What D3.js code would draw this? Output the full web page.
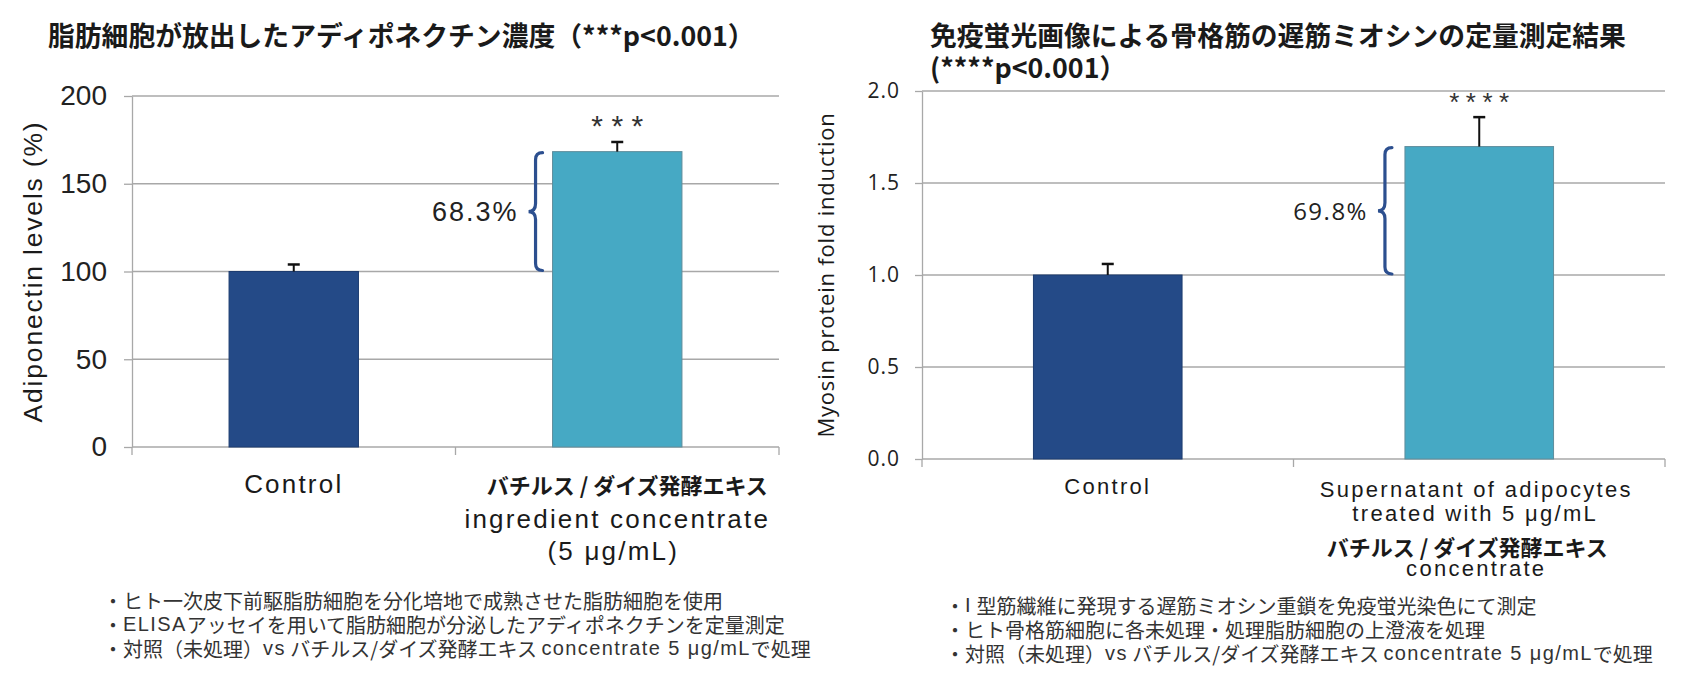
<!DOCTYPE html>
<html>
<head>
<meta charset="utf-8">
<script src="https://cdn.jsdelivr.net/npm/d3@7"></script>
<style>
html, body { margin: 0; padding: 0; background: #fff; }
svg { display: block; }
</style>
</head>
<body>
<svg id="chart" width="1698" height="694"></svg>
<script>
// ---- data, left panel (adiponectin) ----
var titleA = "脂肪細胞が放出したアディポネクチン濃度（***p<0.001）";
var categoriesA = ["Control", "Treated"];
var valuesA = [100, 168.3];
var errorsA = [4, 5.5];
var ticksA = [0, 50, 100, 150, 200];
var yTitleA = "Adiponectin levels (%)";
var labelsA = [["Control"], ["バチルス / ダイズ発酵エキス", "ingredient concentrate", "(5 μg/mL)"]];
var increaseA = "68.3%";
var starsA = "***";
var notesA = [
  "・ヒト一次皮下前駆脂肪細胞を分化培地で成熟させた脂肪細胞を使用",
  "・ELISAアッセイを用いて脂肪細胞が分泌したアディポネクチンを定量測定",
  "・対照（未処理）vs バチルス/ダイズ発酵エキス concentrate 5 μg/mLで処理"
];

// ---- data, right panel (myosin) ----
var titleB = ["免疫蛍光画像による骨格筋の遅筋ミオシンの定量測定結果", "(****p<0.001）"];
var categoriesB = ["Control", "Supernatant"];
var valuesB = [1.0, 1.698];
var errorsB = [0.06, 0.16];
var ticksB = [0, 0.5, 1.0, 1.5, 2.0];
var yTitleB = "Myosin protein fold induction";
var labelsB = [["Control"], ["Supernatant of adipocytes", "treated with 5 μg/mL", "バチルス / ダイズ発酵エキス", "concentrate"]];
var increaseB = "69.8%";
var starsB = "****";
var notesB = [
  "・I 型筋繊維に発現する遅筋ミオシン重鎖を免疫蛍光染色にて測定",
  "・ヒト骨格筋細胞に各未処理・処理脂肪細胞の上澄液を処理",
  "・対照（未処理）vs バチルス/ダイズ発酵エキス concentrate 5 μg/mLで処理"
];

var barColors = ["#244a87", "#46a9c4"];
var barStroke = ["#1d3c70", "#5f8d9c"];

var CJK = "'Noto Sans CJK JP', sans-serif";
var HEL = "'Liberation Sans', Arial, sans-serif";
var OPEN = "'Open Sans', 'Noto Sans', sans-serif";
var GRID = "#a8a8a8";

var svg = d3.select("#chart");

// split a note into latin / japanese runs so the latin bits get the wider face
function noteRuns(s) {
  return s.split(/([A-Za-z0-9μ.\/]+(?: [A-Za-z0-9μ.\/]+)*)/).filter(function(r){ return r.length; });
}

function drawPanel(cfg) {
  var x = d3.scaleBand().domain(cfg.categories).range([cfg.left, cfg.right]).padding(0);
  var y = d3.scaleLinear().domain([0, cfg.ticks[cfg.ticks.length - 1]]).range([cfg.bottom, cfg.top]);
  var g = svg.append("g");

  // horizontal gridlines
  g.selectAll("line.grid").data(cfg.ticks.filter(function(t){ return t > 0; }))
    .enter().append("line")
    .attr("x1", cfg.left).attr("x2", cfg.right)
    .attr("y1", function(d){ return y(d); }).attr("y2", function(d){ return y(d); })
    .attr("stroke", GRID).attr("stroke-width", 1.3);

  // y axis
  var ya = g.append("g").attr("transform", "translate(" + cfg.left + ",0)")
    .call(d3.axisLeft(y).tickValues(cfg.ticks).tickFormat(cfg.fmt)
      .tickSize(cfg.tickLen).tickSizeOuter(0).tickPadding(cfg.tickPad));
  ya.select(".domain").attr("stroke", GRID).attr("stroke-width", 1.3);
  ya.selectAll(".tick line").attr("stroke", GRID).attr("stroke-width", 1.3);
  ya.selectAll(".tick text")
    .attr("font-family", cfg.tickFont).attr("font-size", cfg.tickFontSize)
    .attr("letter-spacing", cfg.tickSpacing).attr("fill", "#222");

  // bottom axis line + category boundary ticks
  g.append("line").attr("x1", cfg.left).attr("x2", cfg.right)
    .attr("y1", y(0)).attr("y2", y(0)).attr("stroke", GRID).attr("stroke-width", 1.3);
  var bounds = cfg.categories.map(function(c){ return x(c); }).concat([cfg.right]);
  g.selectAll("line.xtick").data(bounds).enter().append("line")
    .attr("x1", function(d){ return d; }).attr("x2", function(d){ return d; })
    .attr("y1", y(0)).attr("y2", y(0) + 8)
    .attr("stroke", GRID).attr("stroke-width", 1.3);

  // bars
  var bw = x.bandwidth() * 0.4;
  var bx = function(i){ return x(cfg.categories[i]) + (x.bandwidth() - bw) / 2; };
  var cx = function(i){ return x(cfg.categories[i]) + x.bandwidth() / 2; };
  g.selectAll("rect.bar").data(cfg.values).enter().append("rect")
    .attr("x", function(d, i){ return bx(i); })
    .attr("y", function(d){ return y(d); })
    .attr("width", bw)
    .attr("height", function(d){ return y(0) - y(d); })
    .attr("fill", function(d, i){ return barColors[i]; })
    .attr("stroke", function(d, i){ return barStroke[i]; })
    .attr("stroke-width", 1);

  // error bars (upper half)
  cfg.values.forEach(function(v, i){
    var top = y(v + cfg.errors[i]);
    g.append("line").attr("x1", cx(i)).attr("x2", cx(i))
      .attr("y1", y(v)).attr("y2", top).attr("stroke", "#111").attr("stroke-width", 2);
    g.append("line").attr("x1", cx(i) - 6).attr("x2", cx(i) + 6)
      .attr("y1", top).attr("y2", top).attr("stroke", "#111").attr("stroke-width", 2.5);
  });

  // significance stars
  var last = cfg.values.length - 1;
  g.append("text").attr("x", cx(last) + cfg.starSpacing / 2)
    .attr("y", y(cfg.values[last] + cfg.errors[last]) - 6)
    .attr("text-anchor", "middle")
    .attr("font-family", HEL).attr("font-size", cfg.starSize)
    .attr("letter-spacing", cfg.starSpacing).attr("fill", "#333")
    .text(cfg.stars);

  // brace from control level up to treated level
  var bxLeft = bx(last) - cfg.braceGap;
  var y1 = y(cfg.values[last]), y2 = y(cfg.values[0]);
  var ym = (y1 + y2) / 2, w = 7, t = 7, r = 8;
  var p = d3.path();
  p.moveTo(bxLeft + w, y1 + 1);
  p.quadraticCurveTo(bxLeft, y1 + 1, bxLeft, y1 + r);
  p.lineTo(bxLeft, ym - r);
  p.quadraticCurveTo(bxLeft, ym, bxLeft - t, ym);
  p.quadraticCurveTo(bxLeft, ym, bxLeft, ym + r);
  p.lineTo(bxLeft, y2 - r);
  p.quadraticCurveTo(bxLeft, y2 - 1, bxLeft + w, y2 - 1);
  g.append("path").attr("d", p.toString())
    .attr("fill", "none").attr("stroke", "#2c4f8f").attr("stroke-width", 3.2)
    .attr("stroke-linecap", "round");

  g.append("text").attr("x", bxLeft - t - 10).attr("y", ym)
    .attr("text-anchor", "end").attr("dominant-baseline", "central")
    .attr("font-family", cfg.pctFont).attr("font-size", cfg.pctSize)
    .attr("letter-spacing", cfg.pctSpacing).attr("fill", "#222")
    .text(cfg.increase);

  // category labels: one text per category, one tspan per line
  cfg.labels.forEach(function(lines, i){
    var tx = g.append("text").attr("text-anchor", "middle")
      .attr("dominant-baseline", "central").attr("fill", "#1a1a1a");
    lines.forEach(function(line, j){
      var st = cfg.labelStyle[i][j];
      tx.append("tspan").attr("x", cx(i) + st.dx).attr("y", st.y)
        .attr("dominant-baseline", "central")
        .attr("font-family", st.font).attr("font-size", st.size)
        .attr("font-weight", st.weight || 400)
        .attr("letter-spacing", st.ls || 0)
        .text(line);
    });
  });

  // y axis title
  g.append("text")
    .attr("transform", "translate(" + cfg.yTitleX + "," + (cfg.top + cfg.bottom) / 2 + ") rotate(-90)")
    .attr("text-anchor", "middle").attr("dominant-baseline", "central")
    .attr("font-family", cfg.yTitleFont).attr("font-size", cfg.yTitleSize)
    .attr("letter-spacing", cfg.yTitleSpacing).attr("fill", "#1a1a1a")
    .text(cfg.yTitle);

  // notes block
  var nt = g.append("text").attr("font-family", CJK).attr("font-size", 20).attr("fill", "#333");
  cfg.notes.forEach(function(note, i){
    var line = nt.append("tspan").attr("x", cfg.noteX).attr("y", cfg.noteY + i * 24)
      .attr("dominant-baseline", "central");
    noteRuns(note).forEach(function(run){
      var latin = /[A-Za-z0-9]/.test(run);
      line.append("tspan")
        .attr("font-family", latin ? HEL : CJK)
        .attr("letter-spacing", latin ? 1.4 : 0)
        .text(run);
    });
  });
}

// titles
svg.append("text").attr("x", 48).attr("y", 34).attr("dominant-baseline", "central")
  .attr("font-family", CJK).attr("font-size", 26.8).attr("font-weight", 700).attr("fill", "#1a1a1a")
  .text(titleA);
var tB = svg.append("text").attr("font-family", CJK).attr("font-size", 26.8)
  .attr("font-weight", 700).attr("fill", "#1a1a1a");
titleB.forEach(function(line, i){
  tB.append("tspan").attr("x", 930).attr("y", 34 + i * 32)
    .attr("dominant-baseline", "central").text(line);
});

drawPanel({
  categories: categoriesA, values: valuesA, errors: errorsA, ticks: ticksA,
  left: 132, right: 779, top: 96, bottom: 447,
  fmt: d3.format("d"), tickLen: 8, tickPad: 17,
  tickFont: HEL, tickFontSize: 28, tickSpacing: 0,
  stars: starsA, starSize: 30, starSpacing: 8.5,
  braceGap: 17, increase: increaseA, pctFont: HEL, pctSize: 27, pctSpacing: 2,
  labels: labelsA,
  labelStyle: [
    [{ y: 484, dx: 0, font: HEL, size: 26, ls: 2.2 }],
    [{ y: 484, dx: 10, font: CJK, size: 22, weight: 700 },
     { y: 519, dx: 0, font: HEL, size: 26, ls: 2.2 },
     { y: 551, dx: -4, font: HEL, size: 26, ls: 2.2 }]
  ],
  yTitle: yTitleA, yTitleX: 33, yTitleFont: HEL, yTitleSize: 26.5, yTitleSpacing: 1.8,
  notes: notesA, noteX: 103, noteY: 600
});

drawPanel({
  categories: categoriesB, values: valuesB, errors: errorsB, ticks: ticksB,
  left: 922, right: 1665, top: 91, bottom: 459,
  fmt: d3.format(".1f"), tickLen: 7, tickPad: 15,
  tickFont: OPEN, tickFontSize: 21, tickSpacing: 1,
  stars: starsB, starSize: 26, starSpacing: 6.5,
  braceGap: 20, increase: increaseB, pctFont: OPEN, pctSize: 24, pctSpacing: 1.5,
  labels: labelsB,
  labelStyle: [
    [{ y: 486, dx: 0, font: HEL, size: 22, ls: 2.3 }],
    [{ y: 489, dx: -3, font: HEL, size: 22, ls: 2.3 },
     { y: 513, dx: -4, font: HEL, size: 22, ls: 2.3 },
     { y: 546, dx: -12, font: CJK, size: 22, weight: 700 },
     { y: 568, dx: -3, font: HEL, size: 22, ls: 2.3 }]
  ],
  yTitle: yTitleB, yTitleX: 825, yTitleFont: OPEN, yTitleSize: 22, yTitleSpacing: 0.8,
  notes: notesB, noteX: 945, noteY: 605
});
</script>
</body>
</html>
